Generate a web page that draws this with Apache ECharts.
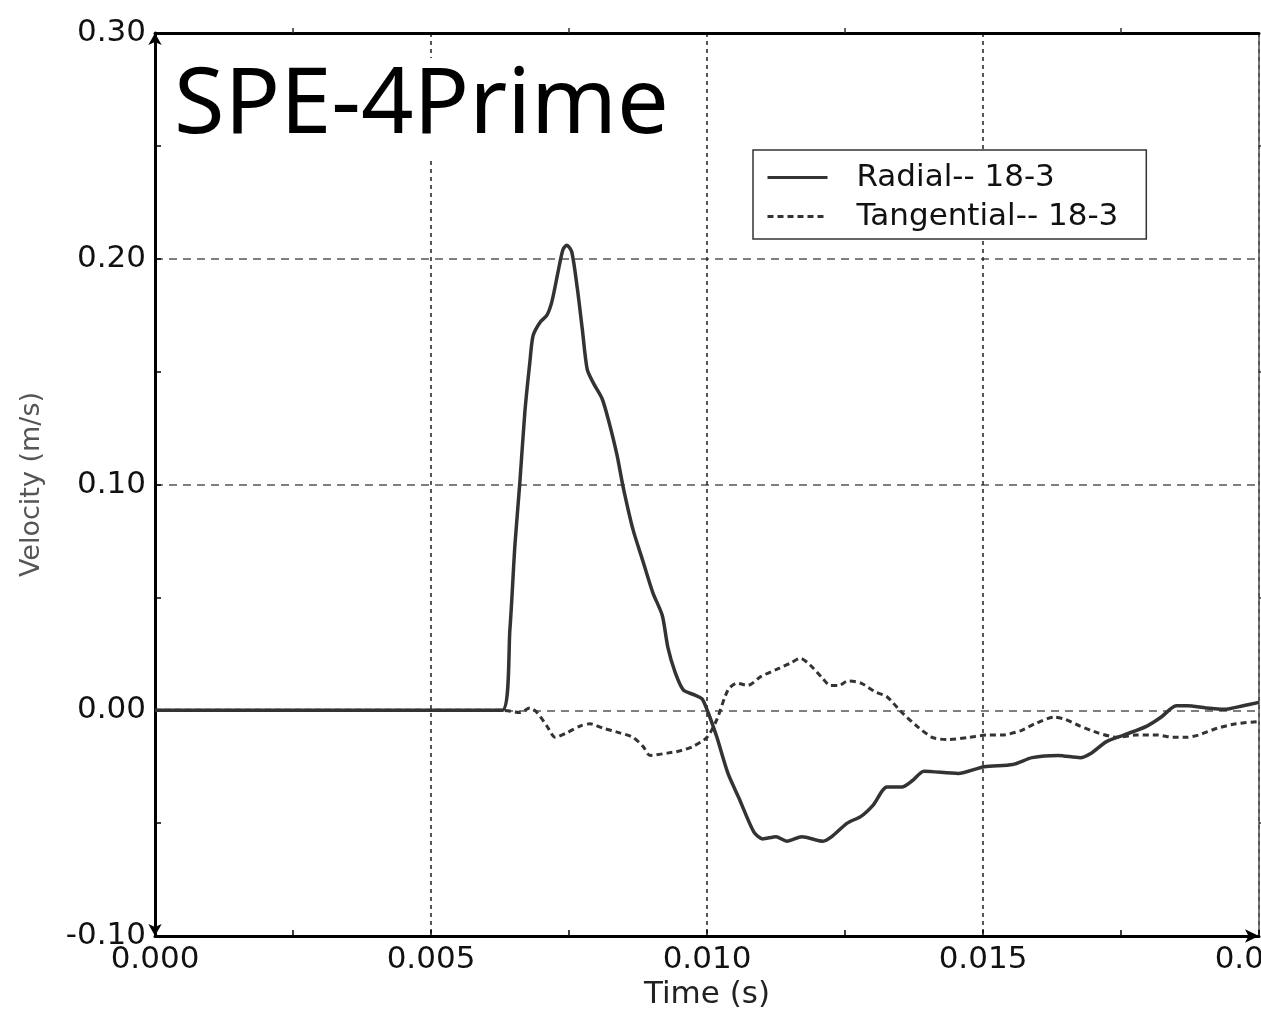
<!DOCTYPE html>
<html>
<head>
<meta charset="utf-8">
<script src="https://cdn.jsdelivr.net/npm/echarts@6/dist/echarts.min.js"></script>
<style>
html,body{margin:0;padding:0;background:#fff;}
#chart{width:1261px;height:1021px;}
</style>
</head>
<body>
<div id="chart"></div>
<script>
// ---- data ----
const titleText = "SPE-4Prime";
const xAxisName = "Time (s)";
const yAxisName = "Velocity (m/s)";
const seriesNames = ["Radial-- 18-3", "Tangential-- 18-3"];

const radialT = [0, 0.00629, 0.00643, 0.00652, 0.00661, 0.00670, 0.00679, 0.00685, 0.00698, 0.00710, 0.00719, 0.00730, 0.00739, 0.00746, 0.00755, 0.00765, 0.00774, 0.00783, 0.00794, 0.00810, 0.00821, 0.00837, 0.00848, 0.00866, 0.00884, 0.00902, 0.00919, 0.00929, 0.00942, 0.00957, 0.00975, 0.00991, 0.01002, 0.01011, 0.01018, 0.01038, 0.01058, 0.01085, 0.01101, 0.01125, 0.01145, 0.01172, 0.01210, 0.01226, 0.01254, 0.01279, 0.01301, 0.01326, 0.01353, 0.01373, 0.01393, 0.01455, 0.01502, 0.01554, 0.01589, 0.01636, 0.01676, 0.01696, 0.01723, 0.01755, 0.01797, 0.01823, 0.01850, 0.01870, 0.01904, 0.01937, 0.01971, 0.02000];
const radialV = [0, 0, 0.036, 0.073, 0.101, 0.132, 0.154, 0.166, 0.172, 0.175, 0.181, 0.194, 0.204, 0.206, 0.203, 0.187, 0.169, 0.151, 0.145, 0.138, 0.129, 0.113, 0.099, 0.080, 0.066, 0.052, 0.042, 0.028, 0.017, 0.009, 0.007, 0.005, -0.001, -0.007, -0.012, -0.028, -0.039, -0.054, -0.057, -0.056, -0.058, -0.056, -0.058, -0.056, -0.050, -0.047, -0.042, -0.034, -0.034, -0.031, -0.027, -0.028, -0.025, -0.024, -0.021, -0.020, -0.021, -0.019, -0.014, -0.011, -0.007, -0.003, 0.002, 0.002, 0.001, 0.0004, 0.002, 0.0035];

const tangT = [0, 0.00629, 0.00661, 0.00679, 0.00692, 0.00710, 0.00725, 0.00746, 0.00770, 0.00788, 0.00812, 0.00842, 0.00866, 0.00884, 0.00897, 0.00928, 0.00951, 0.00975, 0.01000, 0.01018, 0.01038, 0.01054, 0.01074, 0.01098, 0.01125, 0.01152, 0.01169, 0.01187, 0.01210, 0.01223, 0.01239, 0.01255, 0.01279, 0.01306, 0.01326, 0.01353, 0.01380, 0.01408, 0.01435, 0.01475, 0.01507, 0.01534, 0.01569, 0.01594, 0.01629, 0.01649, 0.01676, 0.01708, 0.01743, 0.01777, 0.01817, 0.01844, 0.01870, 0.01890, 0.01924, 0.01958, 0.02000];
const tangV = [0, 0, -0.001, 0.001, -0.001, -0.007, -0.012, -0.010, -0.007, -0.006, -0.008, -0.010, -0.012, -0.016, -0.020, -0.019, -0.018, -0.016, -0.012, -0.004, 0.009, 0.012, 0.011, 0.015, 0.018, 0.021, 0.023, 0.020, 0.014, 0.011, 0.011, 0.013, 0.012, 0.008, 0.006, -0.001, -0.007, -0.012, -0.013, -0.012, -0.011, -0.011, -0.009, -0.006, -0.003, -0.004, -0.007, -0.010, -0.012, -0.011, -0.011, -0.012, -0.012, -0.011, -0.008, -0.006, -0.005];

const xTicks = { min: 0, max: 0.02, interval: 0.005 };
const yTicks = { min: -0.1, max: 0.3, interval: 0.1 };

// ---- chart ----
const chart = echarts.init(document.getElementById('chart'), null, { renderer: 'canvas' });
const pair = (t, v) => t.map((x, i) => [x, v[i]]);
const labelFont = { fontFamily: 'DejaVu Sans', fontSize: 31, color: '#111' };

const option = {
  animation: false,
  backgroundColor: '#fff',
  grid: { left: 155, top: 33, right: 2, bottom: 85, containLabel: false, outerBoundsMode: 'none' },
  title: {
    text: titleText, left: 170, top: 58, padding: [3, 8, 8, 4],
    backgroundColor: '#fff', z: 10,
    textStyle: { fontFamily: 'Noto Sans', fontSize: 92, fontWeight: 'normal', color: '#000' }
  },
  legend: {
    orient: 'vertical', left: 753, top: 150,
    padding: [11, 28, 6, 13], itemGap: 6,
    itemWidth: 60, itemHeight: 14,
    backgroundColor: '#fff', borderColor: '#333', borderWidth: 1.5, borderRadius: 0,
    itemStyle: { opacity: 0 },
    lineStyle: { width: 3 },
    textStyle: { fontFamily: 'DejaVu Sans', fontSize: 31, color: '#111', padding: [0, 0, 0, 24], lineHeight: 33 },
    data: seriesNames
  },
  xAxis: [{
    type: 'value', min: xTicks.min, max: xTicks.max, interval: xTicks.interval,
    position: 'bottom',
    name: xAxisName, nameLocation: 'middle', nameGap: 40,
    nameTextStyle: { fontFamily: 'DejaVu Sans', fontSize: 31, color: '#222' },
    axisLine: { show: true, onZero: false, symbol: ['none', 'arrow'], symbolSize: [10, 14], lineStyle: { color: '#000', width: 3 } },
    axisTick: { show: true, inside: true, length: 6, lineStyle: { color: '#000', width: 1.5 } },
    minorTick: { show: true, splitNumber: 2, length: 6, lineStyle: { color: '#000', width: 1.5 } },
    axisLabel: Object.assign({ margin: 8, formatter: v => v.toFixed(3) }, labelFont),
    splitLine: { show: true, lineStyle: { color: '#222', width: 1.5, type: [4, 4] } }
  }, {
    type: 'value', min: xTicks.min, max: xTicks.max, interval: xTicks.interval,
    position: 'top',
    axisLine: { show: true, onZero: false, lineStyle: { color: '#000', width: 3 } },
    axisTick: { show: false },
    minorTick: { show: true, splitNumber: 2, length: 5, lineStyle: { color: '#333', width: 1.5 } },
    axisLabel: { show: false },
    splitLine: { show: false }
  }],
  yAxis: [{
    type: 'value', min: yTicks.min, max: yTicks.max, interval: yTicks.interval,
    position: 'left',
    name: yAxisName, nameLocation: 'middle', nameGap: 110, nameRotate: 90,
    nameTextStyle: { fontFamily: 'DejaVu Sans', fontSize: 27, color: '#555' },
    axisLine: { show: true, onZero: false, symbol: ['arrow', 'arrow'], symbolSize: [10, 12], lineStyle: { color: '#000', width: 3 } },
    axisTick: { show: true, inside: true, length: 6, lineStyle: { color: '#000', width: 1.5 } },
    minorTick: { show: true, splitNumber: 2, length: 6, lineStyle: { color: '#000', width: 1.5 } },
    axisLabel: Object.assign({ margin: 9, formatter: v => v.toFixed(2) }, labelFont),
    splitLine: { show: true, lineStyle: { color: '#555', width: 1.5, type: [8, 6] } }
  }, {
    type: 'value', min: yTicks.min, max: yTicks.max, interval: yTicks.interval,
    position: 'right',
    axisLine: { show: true, onZero: false, lineStyle: { color: '#555', width: 1.5 } },
    axisTick: { show: false },
    minorTick: { show: true, splitNumber: 2, length: 5, lineStyle: { color: '#333', width: 1.5 } },
    axisLabel: { show: false },
    splitLine: { show: false }
  }],
  series: [{
    name: seriesNames[0], type: 'line', xAxisIndex: 0, yAxisIndex: 0,
    data: pair(radialT, radialV), symbol: 'none', showSymbol: false, smooth: 0.25,
    lineStyle: { color: '#333', width: 3.5, type: 'solid' }, itemStyle: { color: '#333' }, z: 3
  }, {
    name: seriesNames[1], type: 'line', xAxisIndex: 0, yAxisIndex: 0,
    data: pair(tangT, tangV), symbol: 'none', showSymbol: false, smooth: 0.25,
    lineStyle: { color: '#333', width: 3, type: [6, 4] }, itemStyle: { color: '#333' }, z: 4
  }]
};
chart.setOption(option);
</script>
</body>
</html>
